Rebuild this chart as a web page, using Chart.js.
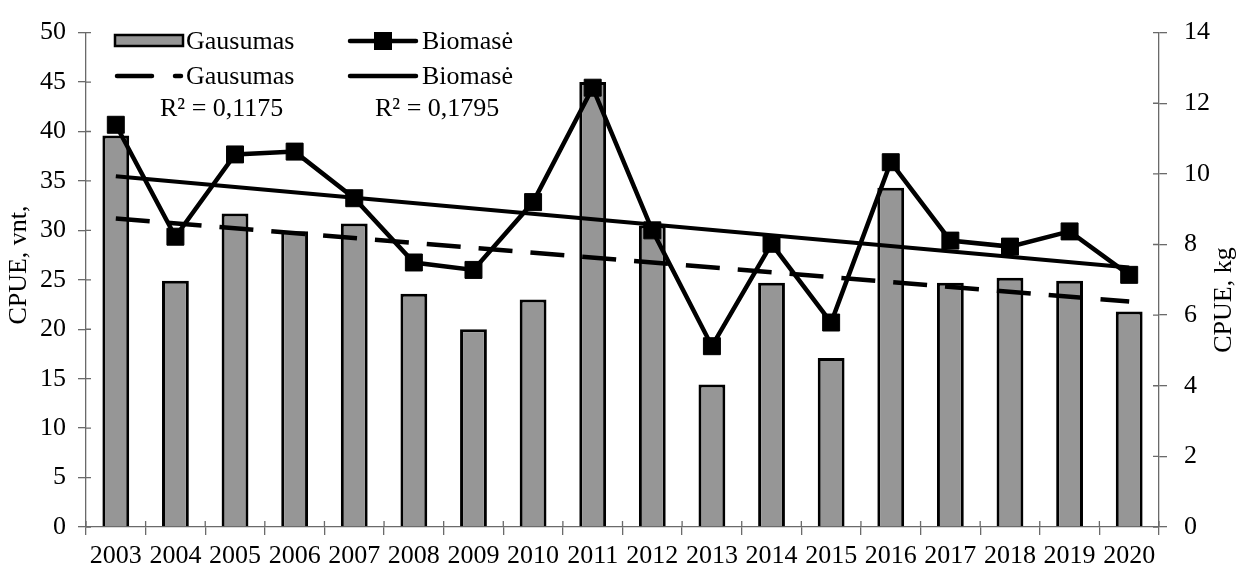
<!DOCTYPE html>
<html>
<head>
<meta charset="utf-8">
<script src="https://cdn.jsdelivr.net/npm/chart.js"></script>
<style>
    body { margin: 0; background: #fff; }
    #wrap { width: 1243px; height: 570px; }
</style>
</head>
<body>
<div id="wrap"><canvas id="chart" width="1243" height="570"></canvas></div>
<script>
// Datos
const years = ['2003', '2004', '2005', '2006', '2007', '2008', '2009', '2010', '2011',
               '2012', '2013', '2014', '2015', '2016', '2017', '2018', '2019', '2020'];
const gausumas = [39.6, 24.9, 31.7, 29.9, 30.7, 23.6, 20.0, 23.0, 45.0,
                  30.5, 14.4, 24.7, 17.1, 34.3, 24.7, 25.2, 24.9, 21.8];
const biomase = [11.39, 8.22, 10.55, 10.63, 9.31, 7.49, 7.28, 9.20, 12.44,
                 8.40, 5.12, 8.02, 5.79, 10.33, 8.11, 7.94, 8.37, 7.14];
// Trendo linijos (galai nuskaityti is paveikslo)
const trendGausumas = [31.2, null, null, null, null, null, null, null, null,
                       null, null, null, null, null, null, null, null, 22.8];
const trendBiomase = [9.93, null, null, null, null, null, null, null, null,
                      null, null, null, null, null, null, null, null, 7.35];
const leftTicks = [0, 50, 5];
const rightTicks = [0, 14, 2];
const labelsLegend = ['Gausumas', 'Biomasė', 'R² = 0,1175', 'R² = 0,1795'];
const axisTitles = ['CPUE, vnt,', 'CPUE, kg'];

const FONT = "'Liberation Serif', 'Times New Roman', serif";
const FSIZE = 26;
const AXIS = '#6a6a6a';

// ticks cruzados (parte interior) + titulos + leyenda
const extras = {
    id: 'extras',
    afterDraw(chart) {
        const ctx = chart.ctx;
        const x = chart.scales.x, y = chart.scales.y, y1 = chart.scales.y1;
        ctx.save();
        ctx.strokeStyle = AXIS;
        ctx.lineWidth = 1.3;
        ctx.beginPath();
        y.ticks.forEach((t) => {
            const py = y.getPixelForValue(t.value);
            ctx.moveTo(y.right, py); ctx.lineTo(y.right + 5, py);
        });
        y1.ticks.forEach((t) => {
            const py = y1.getPixelForValue(t.value);
            ctx.moveTo(y1.left, py); ctx.lineTo(y1.left - 6, py);
        });
        const step = x.width / years.length;
        for (let i = 0; i <= years.length; i++) {
            const px = x.left + i * step;
            ctx.moveTo(px, x.top); ctx.lineTo(px, x.top - 6);
        }
        ctx.stroke();

        // titulos de ejes
        ctx.fillStyle = '#000';
        ctx.font = FSIZE + 'px ' + FONT;
        ctx.textAlign = 'center';
        ctx.textBaseline = 'middle';
        ctx.save();
        ctx.translate(19, 265);
        ctx.rotate(-Math.PI / 2);
        ctx.fillText(axisTitles[0], 0, 0);
        ctx.restore();
        ctx.save();
        ctx.translate(1224, 300);
        ctx.rotate(-Math.PI / 2);
        ctx.fillText(axisTitles[1], 0, 0);
        ctx.restore();

        // leyenda
        ctx.strokeStyle = '#000';
        ctx.fillStyle = '#969696';
        ctx.lineWidth = 2.5;
        ctx.fillRect(115, 35, 68, 11);
        ctx.strokeRect(115, 35, 68, 11);

        ctx.lineWidth = 4.5;
        ctx.lineCap = 'round';
        ctx.beginPath();
        ctx.moveTo(350, 41); ctx.lineTo(416, 41);
        ctx.moveTo(117, 76); ctx.lineTo(152, 76);
        ctx.moveTo(175, 76); ctx.lineTo(181, 76);
        ctx.moveTo(350, 76); ctx.lineTo(416, 76);
        ctx.stroke();
        ctx.fillStyle = '#000';
        ctx.fillRect(374, 32, 18, 18);

        ctx.textAlign = 'left';
        ctx.fillText(labelsLegend[0], 186, 42);
        ctx.fillText(labelsLegend[1], 422, 42);
        ctx.fillText(labelsLegend[0], 186, 77);
        ctx.fillText(labelsLegend[1], 422, 77);
        ctx.fillText(labelsLegend[2], 160, 109);
        ctx.fillText(labelsLegend[3], 375, 109);
        ctx.restore();
    }
};

new Chart(document.getElementById('chart'), {
    type: 'bar',
    data: {
        labels: years,
        datasets: [
            {
                type: 'line',
                label: labelsLegend[1],
                data: biomase,
                yAxisID: 'y1',
                borderColor: '#000',
                borderWidth: 4.5,
                pointStyle: 'rect',
                pointRadius: 12,
                pointBorderWidth: 1,
                pointBackgroundColor: '#000',
                pointBorderColor: '#000',
                tension: 0,
                order: 1
            },
            {
                type: 'line',
                label: labelsLegend[1] + ' trend',
                data: trendBiomase,
                yAxisID: 'y1',
                borderColor: '#000',
                borderWidth: 4,
                pointRadius: 0,
                spanGaps: true,
                order: 2
            },
            {
                type: 'line',
                label: labelsLegend[0] + ' trend',
                data: trendGausumas,
                yAxisID: 'y',
                borderColor: '#000',
                borderWidth: 4.5,
                borderDash: [34, 18],
                pointRadius: 0,
                spanGaps: true,
                order: 3
            },
            {
                label: labelsLegend[0],
                data: gausumas,
                yAxisID: 'y',
                backgroundColor: '#969696',
                borderColor: '#000',
                borderWidth: 3,
                barPercentage: 0.45,
                categoryPercentage: 1,
                order: 10
            }
        ]
    },
    options: {
        responsive: false,
        animation: false,
        layout: { padding: { top: 26, left: 0, right: 0, bottom: 0 } },
        plugins: {
            legend: { display: false },
            tooltip: { enabled: false }
        },
        scales: {
            x: {
                grid: { drawOnChartArea: false, color: AXIS, lineWidth: 1.3, tickLength: 8 },
                border: { color: AXIS, width: 1.3 },
                ticks: { color: '#000', font: { family: FONT, size: FSIZE }, padding: 6, maxRotation: 0, autoSkip: false },
                afterFit(scale) { scale.height = 43; }
            },
            y: {
                position: 'left',
                min: leftTicks[0], max: leftTicks[1],
                grid: { drawOnChartArea: false, color: AXIS, lineWidth: 1.3, tickLength: 8 },
                border: { color: AXIS, width: 1.3 },
                ticks: { stepSize: leftTicks[2], color: '#000', font: { family: FONT, size: FSIZE }, padding: 12 },
                afterFit(scale) { scale.width = 86; }
            },
            y1: {
                position: 'right',
                min: rightTicks[0], max: rightTicks[1],
                grid: { drawOnChartArea: false, color: AXIS, lineWidth: 1.3, tickLength: 8 },
                border: { color: AXIS, width: 1.3 },
                ticks: { stepSize: rightTicks[2], color: '#000', font: { family: FONT, size: FSIZE }, padding: 17 },
                afterFit(scale) { scale.width = 84; }
            }
        }
    },
    plugins: [extras]
});
</script>
</body>
</html>
